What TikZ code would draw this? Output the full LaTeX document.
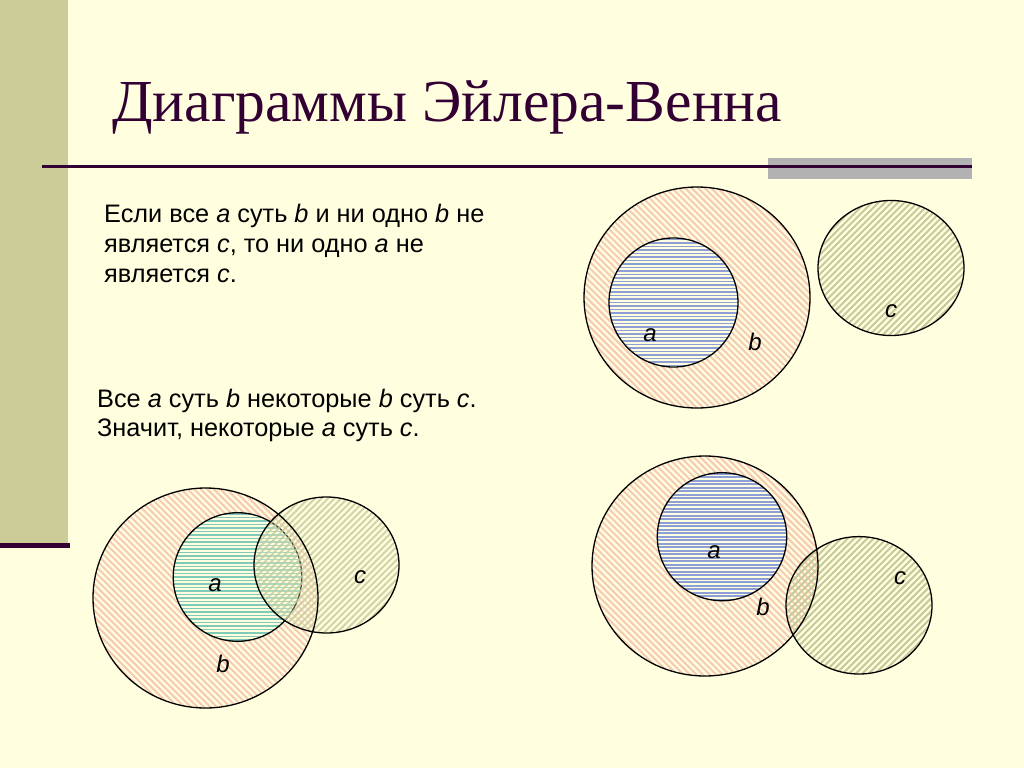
\documentclass[tikz,border=0pt]{standalone}
\usepackage{fontspec}
\setmainfont{Liberation Serif}
\newfontfamily\sansf{Liberation Sans}
\definecolor{bg}{HTML}{FFFFE0}
\definecolor{side}{HTML}{CCCC99}
\definecolor{purp}{HTML}{330033}
\definecolor{grayb}{HTML}{B2B2B2}
\definecolor{bcol}{HTML}{F7CAB4}
\definecolor{ccol}{HTML}{C6CA98}
\definecolor{acol}{HTML}{8E9ED6}
\definecolor{tcol}{HTML}{80CABA}
\tikzset{
  bh/.style={bcol,line width=2pt},
  ch/.style={ccol,line width=2pt},
  ah/.style={acol,line width=1.7pt},
  th/.style={tcol,line width=1.7pt},
  outl/.style={draw=black,line width=1.3pt},
  lbl/.style={font=\sansf\itshape\fontsize{24}{28}\selectfont,inner sep=0pt},
  txt/.style={font=\sansf\fontsize{25.3}{30}\selectfont,anchor=base west,inner sep=0pt},
}
% #1 cx, #2 cy, #3 shape, #4 angle, #5 line style, #6 distance
\newcommand\myhatch[6]{%
\begin{scope}
\clip (#1,#2) #3;
\begin{scope}[shift={(#1,#2)},rotate=#4]
\foreach \k in {-40,...,40} \draw[#5] (-135,\k*#6) -- (135,\k*#6);
\end{scope}
\end{scope}}
\begin{document}
\begin{tikzpicture}[x=1pt,y=-1pt]
\useasboundingbox (0,0) rectangle (1024,768);
\fill[bg] (0,0) rectangle (1024,768);
\fill[side] (0,0) rectangle (68,545);
\draw[purp,line width=5pt] (0,545) -- (70,545);
\fill[grayb] (768,158) rectangle (972,179);
\draw[purp,line width=2.8pt] (42,166.5) -- (972,166.5);
\node[anchor=base west,inner sep=0pt,text=purp,font=\fontsize{59.6}{66}\selectfont] (title) at (112,121) {Диаграммы Эйлера-Венна};
% texts
\node[txt] (t1) at (104,222) {Если все \textit{a} суть \textit{b} и ни одно \textit{b} не};
\node[txt] (t2) at (104,252) {является \textit{c}, то ни одно \textit{a} не};
\node[txt] (t3) at (104,282) {является \textit{c}.};
\node[txt] (t4) at (97,407) {Все \textit{a} суть \textit{b} некоторые \textit{b} суть \textit{c}.};
\node[txt] (t5) at (97,436) {Значит, некоторые \textit{a} суть \textit{c}.};
% top right
\myhatch{697}{297.5}{ellipse [x radius=113,y radius=110.5]}{-45}{bh}{4.6}
\draw[outl] (697,297.5) ellipse [x radius=113,y radius=110.5];
\fill[bg] (673.5,302.5) circle [radius=64.5];
\myhatch{673.5}{302.5}{circle [radius=64.5]}{0}{ah}{3.5}
\draw[outl] (673.5,302.5) circle [radius=64.5];
\myhatch{891}{268}{ellipse [x radius=73,y radius=67.5]}{45}{ch}{4.6}
\draw[outl] (891,268) ellipse [x radius=73,y radius=67.5];
\node[lbl] (la1) at (650,335) {a};
\node[lbl] (lb1) at (755,342) {b};
\node[lbl] (lc1) at (891,311) {c};
% bottom left
\myhatch{205.5}{598}{ellipse [x radius=112.5,y radius=110]}{-45}{bh}{4.6}
\fill[bg] (237.5,577) circle [radius=64.3];
\myhatch{237.5}{577}{circle [radius=64.3]}{0}{th}{3.5}
\draw[outl] (237.5,577) circle [radius=64.3];
\fill[bg,fill opacity=0.3] (326.5,565) ellipse [x radius=72.5,y radius=68];
\myhatch{326.5}{565}{ellipse [x radius=72.5,y radius=68]}{45}{ch,draw opacity=0.8}{4.6}
\draw[outl] (205.5,598) ellipse [x radius=112.5,y radius=110];
\draw[outl] (326.5,565) ellipse [x radius=72.5,y radius=68];
\node[lbl] (la2) at (215,585) {a};
\node[lbl] (lb2) at (223,664) {b};
\node[lbl] (lc2) at (360,577) {c};
% bottom right
\myhatch{705}{566}{ellipse [x radius=113,y radius=110]}{-45}{bh}{4.6}
\fill[bg] (722,536.7) ellipse [x radius=64.7,y radius=64];
\myhatch{722}{536.7}{ellipse [x radius=64.7,y radius=64]}{0}{ah}{3.5}
\draw[outl] (722,536.7) ellipse [x radius=64.7,y radius=64];
\myhatch{859}{605.3}{ellipse [x radius=73,y radius=68.7]}{45}{ch}{4.6}
\draw[outl] (705,566) ellipse [x radius=113,y radius=110];
\draw[outl] (859,605.3) ellipse [x radius=73,y radius=68.7];
\node[lbl] (la3) at (714,552) {a};
\node[lbl] (lb3) at (763,607) {b};
\node[lbl] (lc3) at (900,578) {c};
\end{tikzpicture}
\end{document}
